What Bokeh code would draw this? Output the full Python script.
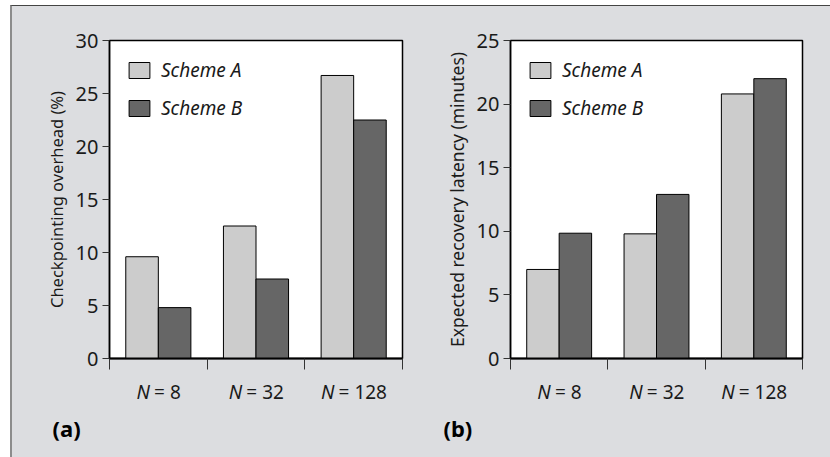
from bokeh.plotting import figure
from bokeh.models import FixedTicker, Range1d
from bokeh.layouts import row, column
from bokeh.core.properties import value
from bokeh.embed import file_html
from bokeh.resources import INLINE

# ---- data ----
categories = ["8", "32", "128"]
series_names = ["Scheme A", "Scheme B"]
overhead_a = [9.6, 12.5, 26.7]
overhead_b = [4.8, 7.5, 22.5]
latency_a = [7.0, 9.8, 20.8]
latency_b = [9.85, 12.9, 22.0]
overhead_ticks = [0, 5, 10, 15, 20, 25, 30]
latency_ticks = [0, 5, 10, 15, 20, 25]
tags = ["(a)", "(b)"]
ylabels = ["Checkpointing overhead (%)", "Expected recovery latency (minutes)"]

FONT = "Noto Sans"
BG = "#dcdde0"
LIGHT = "#cccccc"
DARK = "#666666"
TXT = "#1a1a1a"

MAIN_TOP = 34
FRAME_H = 318
MAIN_BOTTOM = 12
LABEL_H = 87


def make_panel(vals_a, vals_b, ticks, ylabel, ylabel_fs, tag, width, left, frame_w, tag_x):
    n = len(categories)
    right = width - left - frame_w
    p = figure(width=width, height=MAIN_TOP + FRAME_H + MAIN_BOTTOM,
               x_range=Range1d(0, n), y_range=Range1d(ticks[0], ticks[-1]),
               output_backend="svg", toolbar_location=None,
               min_border_left=left, min_border_right=right,
               min_border_top=MAIN_TOP, min_border_bottom=MAIN_BOTTOM)
    p.border_fill_color = BG
    p.background_fill_color = "white"
    p.outline_line_color = "black"
    p.outline_line_width = 1.5
    p.grid.visible = False

    xs = [i + 0.5 for i in range(n)]
    p.vbar(x=[x - 1 / 6 for x in xs], top=vals_a, width=1 / 3,
           fill_color=LIGHT, line_color="black", line_width=1,
           legend_label=series_names[0])
    p.vbar(x=[x + 1 / 6 for x in xs], top=vals_b, width=1 / 3,
           fill_color=DARK, line_color="black", line_width=1,
           legend_label=series_names[1])

    ya = p.yaxis[0]
    ya.ticker = FixedTicker(ticks=ticks)
    ya.minor_tick_line_color = None
    ya.major_tick_in = 0
    ya.major_tick_out = 7
    ya.major_tick_line_color = "#333333"
    ya.axis_line_color = "black"
    ya.axis_line_width = 1.5
    ya.major_label_standoff = 4
    ya.major_label_text_font = FONT
    ya.major_label_text_font_size = "20px"
    ya.major_label_text_color = TXT
    ya.axis_label = ylabel
    ya.axis_label_text_font = FONT
    ya.axis_label_text_font_size = ylabel_fs
    ya.axis_label_text_font_style = "normal"
    ya.axis_label_text_color = TXT
    ya.axis_label_standoff = 5

    xa = p.xaxis[0]
    xa.ticker = FixedTicker(ticks=list(range(n + 1)))
    xa.minor_tick_line_color = None
    xa.major_tick_in = 0
    xa.major_tick_out = 11
    xa.major_tick_line_color = "#333333"
    xa.axis_line_color = "black"
    xa.axis_line_width = 2
    xa.major_label_standoff = 0
    xa.major_label_text_font_size = "0px"
    xa.major_label_text_alpha = 0

    lg = p.legend[0]
    lg.location = "top_left"
    lg.margin = 10
    lg.padding = 7
    lg.glyph_width = 26
    lg.glyph_height = 20
    lg.label_height = 20
    lg.spacing = 12
    lg.label_standoff = 9
    lg.label_text_font = FONT
    lg.label_text_font_size = "19px"
    lg.label_text_font_style = "italic"
    lg.label_text_color = TXT
    lg.background_fill_alpha = 0
    lg.border_line_alpha = 0

    # strip below the axis holding the category labels and the panel tag,
    # with an x scale aligned to the main frame
    unit = frame_w / n
    q = figure(width=width, height=LABEL_H,
               x_range=Range1d(-left / unit, n + right / unit),
               y_range=Range1d(-LABEL_H, 0),
               x_axis_type=None, y_axis_type=None,
               output_backend="svg", toolbar_location=None,
               min_border=0, min_border_left=0, min_border_right=0,
               min_border_top=0, min_border_bottom=0)
    q.border_fill_color = BG
    q.background_fill_color = BG
    q.outline_line_color = None

    fs = 19
    w_n = 0.70 * fs
    gap = 0.22 * fs
    starts = [-(w_n + gap + (0.572 + 0.22 + 0.572 * len(c)) * fs) / 2 for c in categories]
    q.text(x=xs, y=[-21] * n, text=["N"] * n,
           x_offset=[s + w_n for s in starts],
           text_align="right", text_baseline="alphabetic",
           text_font=value(FONT), text_font_size=f"{fs}px",
           text_font_style="italic", text_color=TXT)
    q.text(x=xs, y=[-21] * n, text=["= " + c for c in categories],
           x_offset=[s + w_n + gap for s in starts],
           text_align="left", text_baseline="alphabetic",
           text_font=value(FONT), text_font_size=f"{fs}px",
           text_color=TXT)
    q.text(x=[-left / unit], y=[-57], text=[tag], x_offset=tag_x,
           text_align="left", text_baseline="alphabetic",
           text_font=value(FONT), text_font_size="22px",
           text_font_style="bold", text_color="black")

    return p, q


pa, qa = make_panel(overhead_a, overhead_b, overhead_ticks,
                    ylabels[0], "16.5px", tags[0], 404, 97, 293, 40)
pb, qb = make_panel(latency_a, latency_b, latency_ticks,
                    ylabels[1], "17.5px", tags[1], 414, 94, 292, 27)

layout = column(row(pa, pb, spacing=0), row(qa, qb, spacing=0), spacing=0,
                styles={"margin-top": "5px",
                        "margin-left": "10px",
                        "border-top": "1px solid #444444",
                        "border-left": "2px solid #8c8c8c",
                        "background-color": BG})

open("out.html", "w").write(file_html(layout, INLINE))
